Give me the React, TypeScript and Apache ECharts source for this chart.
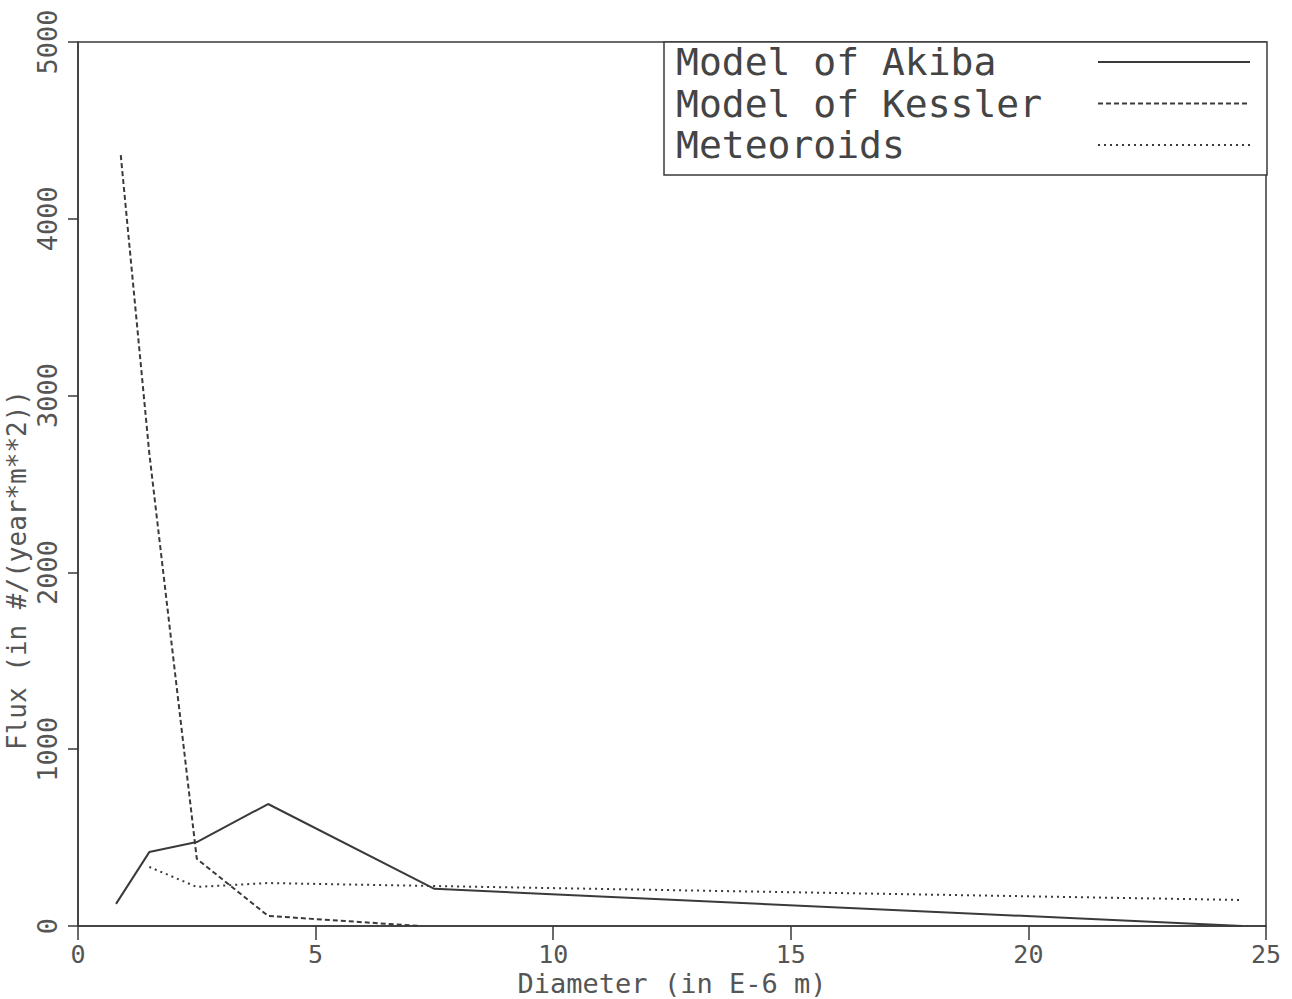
import React, { useEffect, useRef } from "react";
import * as echarts from "echarts";

const akibaX = [0.8, 1.5, 2.5, 4, 7.5, 24.5];
const akibaY = [125, 418, 475, 690, 210, 0];
const kesslerX = [0.9, 1.5, 2.5, 4, 7.2];
const kesslerY = [4360, 2675, 380, 57, 0];
const meteorX = [1.5, 2.5, 4, 7.5, 24.5];
const meteorY = [334, 221, 243, 226, 147];

const seriesNames = ["Model of Akiba", "Model of Kessler", "Meteoroids"];
const xTitle = "Diameter (in E-6 m)";
const yTitle = "Flux (in #/(year*m**2))";

const ink = "#3a3a3a";
const mono = "'DejaVu Sans Mono', 'Liberation Mono', monospace";

function pairs(xs: number[], ys: number[]) {
  return xs.map((x, i) => [x, ys[i]]);
}

export default function App() {
  const ref = useRef<HTMLDivElement>(null);
  useEffect(() => {
    if (!ref.current) return;
    const chart = echarts.init(ref.current, null, { renderer: "svg" });
    const lineBase = { type: "line", symbol: "none", showSymbol: false, silent: true };
    chart.setOption({
      animation: false,
      backgroundColor: "#ffffff",
      grid: {
        left: 78,
        right: 26,
        top: 42,
        bottom: 73,
        outerBoundsMode: "none",
        containLabel: false,
        show: true,
        borderColor: ink,
        borderWidth: 1.5,
      },
      xAxis: {
        type: "value",
        min: 0,
        max: 25,
        interval: 5,
        name: xTitle,
        nameLocation: "middle",
        nameGap: 44,
        nameMoveOverlap: false,
        nameTextStyle: { fontFamily: mono, fontSize: 27, lineHeight: 27, color: "#555" },
        axisLine: { show: true, onZero: false, lineStyle: { color: ink, width: 1.5 } },
        axisTick: { show: true, inside: false, length: 14, lineStyle: { color: ink, width: 1.5 } },
        axisLabel: { margin: 16, fontFamily: mono, fontSize: 25, color: "#555" },
        splitLine: { show: false },
      },
      yAxis: {
        type: "value",
        min: 0,
        max: 5000,
        interval: 1000,
        axisLine: { show: true, lineStyle: { color: ink, width: 1.5 } },
        axisTick: { show: true, inside: false, length: 10, lineStyle: { color: ink, width: 1.5 } },
        axisLabel: {
          rotate: 90,
          margin: 17,
          fontFamily: mono,
          fontSize: 27,
          color: "#555",
          formatter: (v: number) => String(v),
        },
        splitLine: { show: false },
      },
      legend: {
        show: true,
        left: 664,
        top: 42,
        orient: "vertical",
        align: "right",
        backgroundColor: "#ffffff",
        borderColor: ink,
        borderWidth: 1.5,
        borderRadius: 0,
        padding: [1, 16, 11, 12],
        itemGap: 3.5,
        itemWidth: 152,
        itemHeight: 20,
        itemStyle: { opacity: 0 },
        selectedMode: false,
        data: seriesNames,
        formatter: (n: string) => "{a|" + n + "}",
        textStyle: {
          rich: {
            a: {
              width: 417,
              align: "left",
              lineHeight: 38,
              fontFamily: mono,
              fontSize: 38,
              color: "#444",
            },
          },
        },
      },
      graphic: [
        {
          type: "text",
          x: 17,
          y: 570,
          rotation: Math.PI / 2,
          style: {
            text: yTitle,
            font: "26px " + mono,
            fill: "#555",
            align: "center",
            verticalAlign: "middle",
          },
        },
      ],
      series: [
        {
          ...lineBase,
          name: seriesNames[0],
          data: pairs(akibaX, akibaY),
          lineStyle: { color: ink, width: 2, type: "solid" },
          itemStyle: { color: ink },
        },
        {
          ...lineBase,
          name: seriesNames[1],
          data: pairs(kesslerX, kesslerY),
          lineStyle: { color: ink, width: 2, type: [5, 3] },
          itemStyle: { color: ink },
        },
        {
          ...lineBase,
          name: seriesNames[2],
          data: pairs(meteorX, meteorY),
          lineStyle: { color: ink, width: 2, type: [2, 4] },
          itemStyle: { color: ink },
        },
      ],
    });
    return () => chart.dispose();
  }, []);
  return (
    <div
      ref={ref}
      style={{ position: "fixed", left: 0, top: 0, width: 1292, height: 999, background: "#fff" }}
    />
  );
}
